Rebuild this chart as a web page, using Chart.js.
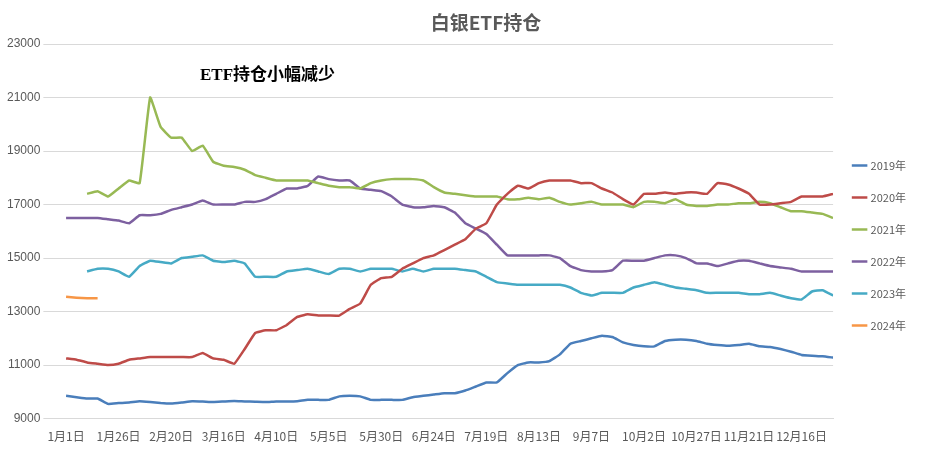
<!DOCTYPE html>
<html><head><meta charset="utf-8">
<script src="https://cdn.jsdelivr.net/npm/chart.js@4"></script>
<style>body{margin:0;background:#fff}#w{width:930px;height:449px}</style>
</head><body><div id="w"><canvas id="c"></canvas></div>
<script>
const tickLabels=["1月1日","1月26日","2月20日","3月16日","4月10日","5月5日","5月30日","6月24日","7月19日","8月13日","9月7日","10月2日","10月27日","11月21日","12月16日"];
const tickDays=[0,25,50,75,100,125,150,175,200,225,250,275,300,325,350];
const days=[0,5,10,15,20,25,30,35,40,45,50,55,60,65,70,75,80,85,90,95,100,105,110,115,120,125,130,135,140,145,150,155,160,165,170,175,180,185,190,195,200,205,210,215,220,225,230,235,240,245,250,255,260,265,270,275,280,285,290,295,300,305,310,315,320,325,330,335,340,345,350,355,360,365];
const s2019=[9850,9800,9750,9750,9550,9580,9600,9650,9620,9580,9560,9600,9650,9640,9620,9640,9660,9640,9630,9620,9640,9640,9650,9700,9700,9700,9830,9850,9830,9700,9700,9700,9700,9800,9850,9900,9950,9950,10050,10200,10350,10350,10700,11000,11100,11100,11150,11400,11800,11900,12000,12100,12050,11850,11750,11700,11700,11900,11950,11950,11900,11800,11750,11720,11750,11800,11700,11680,11600,11500,11380,11350,11330,11280];
const s2020=[11250,11200,11100,11050,11000,11050,11200,11250,11300,11300,11300,11300,11300,11450,11250,11200,11050,11600,12200,12300,12300,12500,12800,12900,12850,12850,12850,13100,13300,14000,14250,14300,14600,14800,15000,15100,15300,15500,15700,16100,16300,17000,17400,17700,17600,17800,17900,17900,17900,17800,17800,17600,17450,17200,17000,17400,17400,17450,17400,17450,17450,17400,17800,17750,17600,17400,17000,17000,17050,17100,17300,17300,17300,17400];
const s2021=[null,null,17400,17500,17300,17600,17900,17800,21000,19900,19500,19500,19000,19200,18600,18450,18400,18300,18100,18000,17900,17900,17900,17900,17800,17700,17650,17650,17600,17800,17900,17950,17950,17950,17900,17650,17450,17400,17350,17300,17300,17300,17200,17200,17250,17200,17250,17100,17000,17050,17100,17000,17000,17000,16900,17100,17100,17050,17200,17000,16950,16950,17000,17000,17050,17050,17100,17050,16900,16750,16750,16700,16650,16500];
const s2022=[16500,16500,16500,16500,16450,16400,16300,16600,16600,16650,16800,16900,17000,17150,17000,17000,17000,17100,17100,17200,17400,17600,17600,17700,18050,17950,17900,17900,17600,17550,17500,17300,17000,16900,16900,16950,16900,16700,16300,16100,15900,15500,15100,15100,15100,15100,15100,15000,14700,14550,14500,14500,14550,14900,14900,14900,15000,15100,15100,15000,14800,14800,14700,14800,14900,14900,14800,14700,14650,14600,14500,14500,14500,14500];
const s2023=[null,null,14500,14600,14600,14500,14300,14700,14900,14850,14800,15000,15050,15100,14900,14850,14900,14800,14300,14300,14300,14500,14550,14600,14500,14400,14600,14600,14500,14600,14600,14600,14500,14600,14500,14600,14600,14600,14550,14500,14300,14100,14050,14000,14000,14000,14000,14000,13900,13700,13600,13700,13700,13700,13900,14000,14100,14000,13900,13850,13800,13700,13700,13700,13700,13650,13650,13700,13600,13500,13450,13750,13800,13600];
const s2024=[13550,13520,13500,13500];
const yTicks=[9000,11000,13000,15000,17000,19000,21000,23000];
const mk=(arr)=>arr.map((v,i)=>({x:days[i],y:v}));
const series=[["2019年",s2019,"#4a7ebb"],["2020年",s2020,"#be4b48"],["2021年",s2021,"#98b954"],["2022年",s2022,"#7d60a0"],["2023年",s2023,"#46aac5"],["2024年",s2024,"#f79646"]];
const deco={id:'deco',afterDraw(ch){const c=ch.ctx;c.save();c.fillStyle='#595959';c.font='bold 19px "Noto Sans CJK SC"';c.textAlign='center';c.fillText('白银ETF持仓',486,30);
c.fillStyle='#000';c.font='bold 17px "Liberation Serif","Noto Sans CJK SC"';c.textAlign='left';c.fillText('ETF持仓小幅减少',200,80);c.restore();}};
new Chart(document.getElementById('c'),{type:'line',
data:{datasets:series.map(([l,a,col])=>({label:l,data:mk(a),borderColor:col,backgroundColor:col,borderWidth:2.5,pointRadius:0,tension:0.1,spanGaps:false}))},
options:{animation:false,responsive:true,maintainAspectRatio:false,
layout:{padding:{top:44,right:14,left:4,bottom:2}},
plugins:{title:{display:false},tooltip:{enabled:false},
legend:{position:'right',labels:{usePointStyle:true,pointStyle:'line',boxWidth:24,padding:21,color:'#595959',font:{size:11,family:'"Noto Sans CJK SC"'}}}},
scales:{x:{type:'linear',min:-7,max:365,grid:{display:false},border:{color:'#d9d9d9'},
afterBuildTicks:(ax)=>{ax.ticks=tickDays.map(v=>({value:v}));},
ticks:{autoSkip:false,maxRotation:0,color:'#595959',font:{size:12,family:'"Noto Sans CJK SC"'},callback:(v)=>tickLabels[tickDays.indexOf(v)]}},
y:{min:9000,max:23000,afterBuildTicks:(ax)=>{ax.ticks=yTicks.map(v=>({value:v}));},grid:{color:'#d9d9d9'},border:{display:false},ticks:{color:'#595959',font:{size:12},callback:(v)=>String(v)}}}},
plugins:[deco]});
</script></body></html>
